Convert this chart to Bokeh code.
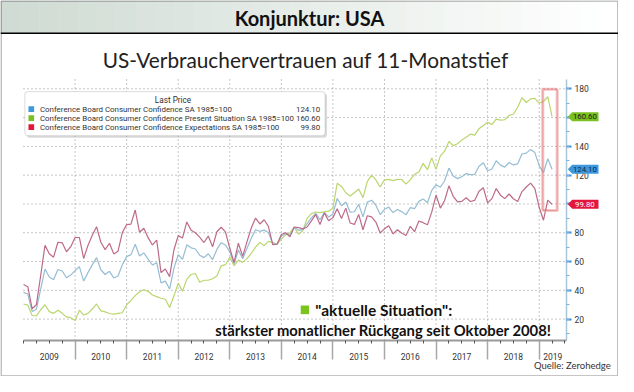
from bokeh.plotting import figure
from bokeh.models import Range1d, LinearAxis, FixedTicker, Label, BoxAnnotation, PolyAnnotation
from bokeh.embed import file_html
from bokeh.resources import INLINE

# ---------------- data (monthly, month-end, Dec 2008 .. Mar 2019) ----------------
first_month_end = 2009.0  # 31 Dec 2008 as decimal year

cci = [38.6,
       37.4, 25.3, 26.9, 40.8, 54.8, 49.3, 47.4, 54.5, 53.4, 48.7, 50.6, 53.6,
       56.5, 46.4, 52.3, 57.7, 62.7, 54.3, 51.0, 53.2, 48.6, 49.9, 57.8, 63.4,
       64.8, 72.0, 63.8, 66.0, 61.7, 57.6, 59.2, 45.2, 46.4, 40.9, 55.2, 64.8,
       61.5, 71.6, 69.5, 68.7, 64.4, 62.7, 65.4, 61.3, 68.4, 73.1, 71.5, 66.7,
       58.4, 68.0, 61.9, 69.0, 76.2, 82.1, 81.0, 81.8, 80.2, 72.4, 72.0, 77.5,
       79.4, 78.3, 83.9, 81.7, 82.2, 86.4, 90.3, 93.4, 89.0, 94.1, 91.0, 93.1,
       103.8, 98.8, 101.4, 94.3, 94.6, 99.8, 91.0, 101.3, 102.6, 99.1, 92.6, 96.3,
       97.8, 94.0, 96.1, 94.7, 92.4, 97.4, 96.7, 101.8, 103.5, 100.8, 109.4, 113.3,
       111.6, 116.1, 124.9, 119.4, 117.6, 118.9, 121.1, 120.4, 120.6, 126.2, 128.6, 123.1,
       124.3, 130.0, 127.0, 125.6, 128.8, 127.1, 127.9, 134.7, 135.3, 137.9, 135.7, 126.6,
       121.7, 131.4, 124.1]

present = [30.5,
           29.7, 22.5, 22.2, 26.5, 30.0, 25.2, 24.0, 26.2, 24.0, 21.5, 21.0, 19.0,
           26.2, 22.8, 24.0, 27.0, 30.5, 25.7, 25.0, 23.9, 23.5, 24.0, 24.4, 30.0,
           33.0, 36.3, 39.0, 40.4, 39.3, 36.7, 35.6, 34.5, 33.8, 28.0, 36.0, 45.0,
           39.3, 47.8, 51.0, 51.7, 45.6, 47.0, 47.0, 48.0, 50.0, 57.0, 57.8, 63.0,
           57.0, 61.0, 59.4, 62.0, 65.6, 70.0, 73.3, 71.0, 74.0, 73.3, 72.0, 75.6,
           78.5, 80.0, 83.8, 79.0, 81.5, 90.0, 93.3, 94.4, 94.0, 94.5, 95.0, 97.0,
           114.4, 112.2, 107.8, 105.5, 107.8, 110.4, 104.4, 115.5, 120.0, 116.7, 111.8, 116.7,
           117.1, 116.2, 117.1, 117.0, 113.8, 116.7, 120.7, 122.2, 128.2, 123.8, 132.0, 124.0,
           133.4, 136.7, 143.4, 140.5, 141.8, 144.5, 146.3, 148.5, 147.8, 152.3, 154.5, 156.7,
           155.2, 158.9, 158.3, 158.5, 161.6, 162.3, 167.2, 173.8, 170.5, 173.0, 173.4, 170.0,
           171.2, 174.5, 160.6]

expect = [44.0,
          42.5, 27.2, 30.0, 50.3, 71.3, 65.4, 63.0, 73.4, 73.0, 66.8, 70.3, 76.7,
          76.7, 62.1, 71.2, 78.2, 84.2, 73.4, 68.3, 72.7, 65.3, 67.2, 80.1, 85.7,
          86.0, 95.8, 80.3, 83.1, 76.6, 71.5, 74.9, 52.3, 54.8, 49.5, 68.0, 78.0,
          76.3, 87.5, 81.8, 80.0, 76.9, 73.2, 77.7, 70.2, 80.7, 83.8, 80.6, 69.2,
          59.3, 72.7, 63.6, 73.7, 83.3, 90.2, 86.1, 89.0, 84.3, 71.8, 72.0, 78.8,
          80.0, 77.2, 84.0, 83.5, 82.7, 84.0, 88.3, 92.7, 85.7, 93.8, 88.3, 90.5,
          96.7, 89.9, 97.1, 86.8, 85.8, 92.7, 82.1, 91.8, 91.0, 87.4, 79.8, 82.7,
          84.9, 79.2, 82.1, 79.8, 78.1, 84.5, 80.7, 88.2, 87.0, 85.5, 94.3, 106.2,
          97.1, 102.4, 112.6, 105.3, 101.5, 101.8, 104.3, 101.7, 102.5, 108.8, 111.3, 100.7,
          103.7, 110.7, 106.1, 103.7, 106.9, 103.6, 101.7, 108.6, 111.8, 114.5, 110.6, 97.7,
          88.7, 102.7, 99.8]

years = list(range(2009, 2020))
year_labels = [str(y) for y in years]
y_ticks = [20, 40, 60, 80, 100, 120, 140, 160, 180]
series_names = ["Conference Board Consumer Confidence SA 1985=100",
                "Conference Board Consumer Confidence Present Situation SA 1985=100",
                "Conference Board Consumer Confidence Expectations SA 1985=100"]
legend_title = "Last Price"
header_text = "Konjunktur: USA"
title_text = "US-Verbrauchervertrauen auf 11-Monatstief"
note_line1 = '"aktuelle Situation":'
note_line2 = "stärkster monatlicher Rückgang seit Oktober 2008!"
source_text = "Quelle: Zerohedge"

months = [first_month_end + i / 12 for i in range(len(cci))]

# ---------------- styles ----------------
BLUE_LINE, GREEN_LINE, RED_LINE = "#95bdd4", "#bad66e", "#bd6a88"
BLUE, GREEN, RED = "#3d98de", "#7ac120", "#e3173d"
SMALL_FONT = "Roboto"
BIG_FONT = "Lato"

# ---------------- geometry (chart area inside the canvas) ----------------
W, H = 618, 376
SX, SY = W / 634, H / 392
L, R, T, B = 23, 52, 79, 36          # chart area margins in canvas px
FW, FH = W - L - R, H - T - B
X0, X1 = 2009.0, 2019.53             # chart area x extent (years)
Y0, Y1 = 5.13, 186.47                # chart area y extent (index)
KX = (X1 - X0) / FW
KY = (Y1 - Y0) / FH


def dx(rx):
    return X0 + (rx * SX - L) * KX


def dy(ry):
    return Y1 - (ry * SY - T) * KY


def ddy(rpx):
    return rpx * SY * KY


p = figure(width=W, height=H, output_backend="svg", toolbar_location=None,
           x_range=Range1d(X0 - L * KX, X0 + (W - L) * KX),
           y_range=Range1d(Y1 - (H - T) * KY, Y1 + T * KY),
           x_axis_location=None, y_axis_location=None, min_border=0,
           background_fill_color="white", border_fill_color="white",
           outline_line_color=None)
p.title.visible = False
p.grid.visible = False

# ---------------- header band ----------------
n_strips = 32
c0, c1 = (207, 219, 211), (255, 255, 255)
for i in range(n_strips):
    t = i / (n_strips - 1)
    col = "#%02x%02x%02x" % tuple(int(round(a + (b - a) * t)) for a, b in zip(c0, c1))
    p.add_layout(BoxAnnotation(left=dx(i * 634 / n_strips), right=dx((i + 1) * 634 / n_strips + 0.5),
                               top=dy(0), bottom=dy(34), fill_color=col, fill_alpha=1,
                               line_color=None, level="underlay"))
p.add_layout(BoxAnnotation(left=dx(0), right=dx(634), top=dy(33.3), bottom=dy(35),
                           fill_color="black", fill_alpha=1, line_color=None))
p.add_layout(Label(x=dx(317), y=dy(18.5), text=header_text, text_align="center",
                   text_baseline="middle", text_font=BIG_FONT, text_font_style="bold",
                   text_font_size="20px", text_color="#111111"))
p.add_layout(Label(x=dx(313), y=dy(62), text=title_text, text_align="center",
                   text_baseline="middle", text_font=BIG_FONT,
                   text_font_size="20.8px", text_color="#222222"))

# ---------------- grid (dotted) ----------------
vx = years[1:]
p.segment(x0=vx, y0=[Y0] * len(vx), x1=vx, y1=[Y1] * len(vx),
          line_color="#8c8c8c", line_dash="1 3", line_width=1)
p.segment(x0=[X0] * len(y_ticks), y0=y_ticks, x1=[X1] * len(y_ticks), y1=y_ticks,
          line_color="#8c8c8c", line_dash="1 3", line_width=1)

# ---------------- lines ----------------
p.line(months, present, line_color=GREEN_LINE, line_width=1.2)
p.line(months, cci, line_color=BLUE_LINE, line_width=1.2)
p.line(months, expect, line_color=RED_LINE, line_width=1.2)

# ---------------- x axis: labels centred in each year, quarter minor ticks ----------------
label_pos = [y + 0.5 for y in years[:-1]] + [(years[-1] + X1) / 2]
xa = LinearAxis(fixed_location=Y0, bounds=(X0, X1),
                ticker=FixedTicker(ticks=label_pos, minor_ticks=[2009 + q / 4 for q in range(0, 43)]),
                major_label_overrides={pos: lab for pos, lab in zip(label_pos, year_labels)},
                major_tick_in=0, major_tick_out=0, minor_tick_in=0, minor_tick_out=3,
                minor_tick_line_color="#555555", axis_line_color="#9a9a9a", axis_line_width=2,
                major_label_standoff=9, major_label_text_font=SMALL_FONT,
                major_label_text_font_size="8.5px", major_label_text_color="#333333")
p.add_layout(xa, "below")

sep = LinearAxis(fixed_location=Y0, bounds=(X0, X1), ticker=FixedTicker(ticks=years[1:]),
                 axis_line_color=None, major_tick_in=0, major_tick_out=19,
                 major_tick_line_color="#a8a8a8", major_tick_line_width=1.5,
                 minor_tick_line_color=None,
                 major_label_overrides={y: "" for y in years[1:]})
p.add_layout(sep, "below")

# ---------------- right value axis ----------------
ya = LinearAxis(fixed_location=X1, bounds=(Y0, Y1),
                ticker=FixedTicker(ticks=y_ticks, minor_ticks=list(range(10, 190, 10))),
                axis_line_color="#a8c6dc", axis_line_width=1.5,
                major_tick_in=0, major_tick_out=5, major_tick_line_color="#3b8fd9",
                major_tick_line_width=2, minor_tick_in=0, minor_tick_out=3,
                minor_tick_line_color="#7fb2dd", major_label_standoff=3,
                major_label_text_font=SMALL_FONT, major_label_text_font_size="8.5px",
                major_label_text_color="#333333")
p.add_layout(ya, "right")

# ---------------- legend ----------------
p.add_layout(BoxAnnotation(left=dx(27), right=dx(335), top=dy(97), bottom=dy(143),
                           fill_color="#999999", fill_alpha=0.35, line_color=None,
                           border_radius=3))
p.add_layout(BoxAnnotation(left=dx(25), right=dx(333), top=dy(95), bottom=dy(141),
                           fill_color="white", fill_alpha=1, line_color="#8a8a8a",
                           line_width=1, border_radius=3))
p.add_layout(Label(x=dx(177), y=dy(104), text=legend_title, text_align="center",
                   text_baseline="middle", text_font=SMALL_FONT, text_font_size="8.2px",
                   text_color="#333333"))
rows_y = [113.3, 122.7, 132.0]
for ry, name, col, series in zip(rows_y, series_names, [BLUE, GREEN, RED], [cci, present, expect]):
    p.add_layout(BoxAnnotation(left=dx(28.7), right=dx(34.5), top=dy(ry - 3), bottom=dy(ry + 3),
                               fill_color=col, fill_alpha=1, line_color=None))
    p.add_layout(Label(x=dx(40.5), y=dy(ry), text=name, text_align="left",
                       text_baseline="middle", text_font=SMALL_FONT, text_font_size="7.9px",
                       text_color="#333333"))
    p.add_layout(Label(x=dx(328), y=dy(ry), text="%.2f" % series[-1], text_align="right",
                       text_baseline="middle", text_font=SMALL_FONT, text_font_size="7.9px",
                       text_color="#333333"))

# ---------------- last value tags on the right axis ----------------
for series, col, tcol in [(present, GREEN, "#1a1a1a"), (cci, BLUE, "#0f2a45"), (expect, RED, "white")]:
    v = series[-1]
    h = ddy(4.8)
    p.add_layout(PolyAnnotation(xs=[dx(582), dx(586.5), dx(613.5), dx(613.5), dx(586.5)],
                                ys=[v, v + h, v + h, v - h, v - h],
                                fill_color=col, fill_alpha=1, line_color=None))
    p.add_layout(Label(x=dx(599.5), y=v, text="%.2f" % v, text_align="center",
                       text_baseline="middle", text_font=SMALL_FONT, text_font_size="7.8px",
                       text_color=tcol))

# ---------------- highlight box ----------------
p.add_layout(BoxAnnotation(left=2019.08, right=2019.36, top=179.3, bottom=95.1,
                           fill_color=None, line_color="#e8a0a0", line_width=2, line_alpha=0.6))
p.add_layout(BoxAnnotation(left=2019.06, right=2019.34, top=180.0, bottom=95.8,
                           fill_color=None, line_color="#e0393b", line_width=2))

# ---------------- notes ----------------
p.add_layout(BoxAnnotation(left=dx(308), right=dx(316.5), top=dy(318), bottom=dy(327),
                           fill_color="#7ac41c", fill_alpha=1, line_color=None))
p.add_layout(Label(x=dx(323), y=dy(322.5), text=note_line1, text_align="left",
                   text_baseline="middle", text_font=BIG_FONT, text_font_style="bold",
                   text_font_size="15.5px", text_color="#111111"))
p.add_layout(Label(x=dx(393), y=dy(343), text=note_line2, text_align="center",
                   text_baseline="middle", text_font=BIG_FONT, text_font_style="bold",
                   text_font_size="14.8px", text_color="#111111"))
p.add_layout(Label(x=dx(626), y=dy(381), text=source_text, text_align="right",
                   text_baseline="middle", text_font=BIG_FONT,
                   text_font_size="9.5px", text_color="#333333"))

# outer frame
p.add_layout(BoxAnnotation(left=dx(0.6), right=dx(633.4), top=dy(0.6), bottom=dy(391.4),
                           fill_color=None, line_color="black", line_width=1.5))

open("out.html", "w").write(file_html(p, INLINE))
